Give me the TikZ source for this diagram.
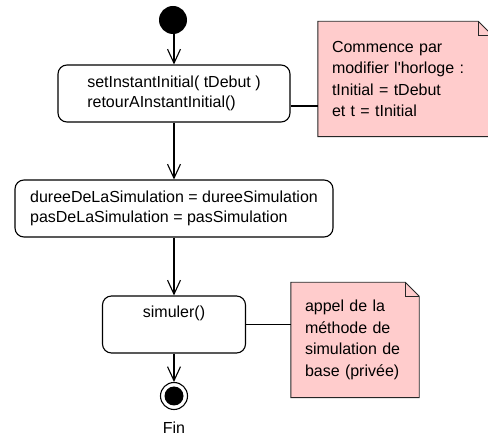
\documentclass[tikz,border=0pt]{standalone}
\usepackage{fontspec}
\setmainfont{Liberation Sans}
\usetikzlibrary{arrows.meta,backgrounds}
\definecolor{notepink}{HTML}{FFCCCC}

\begin{document}
\begin{tikzpicture}[x=1pt,y=-1pt,
		every node/.style={font=\fontsize{16}{20}\selectfont},
		action/.style={draw,rounded corners=9pt,line width=1.1pt,minimum height=57pt,inner sep=0pt,align=left},
		notebox/.style={minimum height=115pt,inner xsep=14pt,inner ysep=0pt,align=left,font=\fontsize{16}{21.5}\selectfont},
		notepaper/.style={draw=black!85,line width=0.9pt,fill=notepink},
		flow/.style={line width=1.1pt,-{Straight Barb[length=14pt,width=13pt,line width=1.1pt]}},
		link/.style={line width=1.1pt}]
		\clip (0,0) rectangle (488,438);
		% start and end
		\node[circle,fill,minimum size=28pt,inner sep=0pt] (start) at (173,20) {};
		\node[circle,draw,line width=1.1pt,minimum size=27pt,inner sep=0pt] (end) at (174,396) {};
		\node[circle,fill,minimum size=19pt,inner sep=0pt] (endcore) at (end) {};
		\node (fin) at (174,428) {Fin};
		% actions
		\node[action,minimum width=232pt] (init) at (174,93.5) {setInstantInitial( tDebut )\\retourAInstantInitial()};
		\node[action,minimum width=318pt] (setup) at (174,208.5) {dureeDeLaSimulation = dureeSimulation\\pasDeLaSimulation = pasSimulation};
		\node[action,minimum width=143pt,align=center] (simul) at (174,324.5) {simuler()\\\strut};
		% notes
		\node[notebox,text width=146pt] (note1) at (405,79) {Commence par\\modifier l\textquotesingle horloge :\\tInitial = tDebut\\et t = tInitial};
		\node[notebox,text width=100pt] (note2) at (355,340) {appel de la\\méthode de\\simulation de\\base (privée)};
		\begin{scope}[on background layer]
			\foreach \n in {note1, note2} {
				\draw[notepaper] (\n.south west) -- (\n.north west) -- ([xshift=-14pt]\n.north east)
					-- ([yshift=-14pt]\n.north east) -- (\n.south east) -- cycle;
				\draw[notepaper,fill=none] ([xshift=-14pt]\n.north east) |- ([yshift=-14pt]\n.north east);
			}
		\end{scope}
		% connectors
		\coordinate (n1y) at (300,106);
		\draw[flow] (start.south -| init.north) -- (init);
		\draw[flow] (init) -- (setup);
		\draw[flow] (setup) -- (simul);
		\draw[flow] (simul) -- (end);
		\draw[link] (init.east |- n1y) -- (note1.west |- n1y);
		\draw[link] (simul) -- (note2.west |- simul);
	\end{tikzpicture}
\end{document}
